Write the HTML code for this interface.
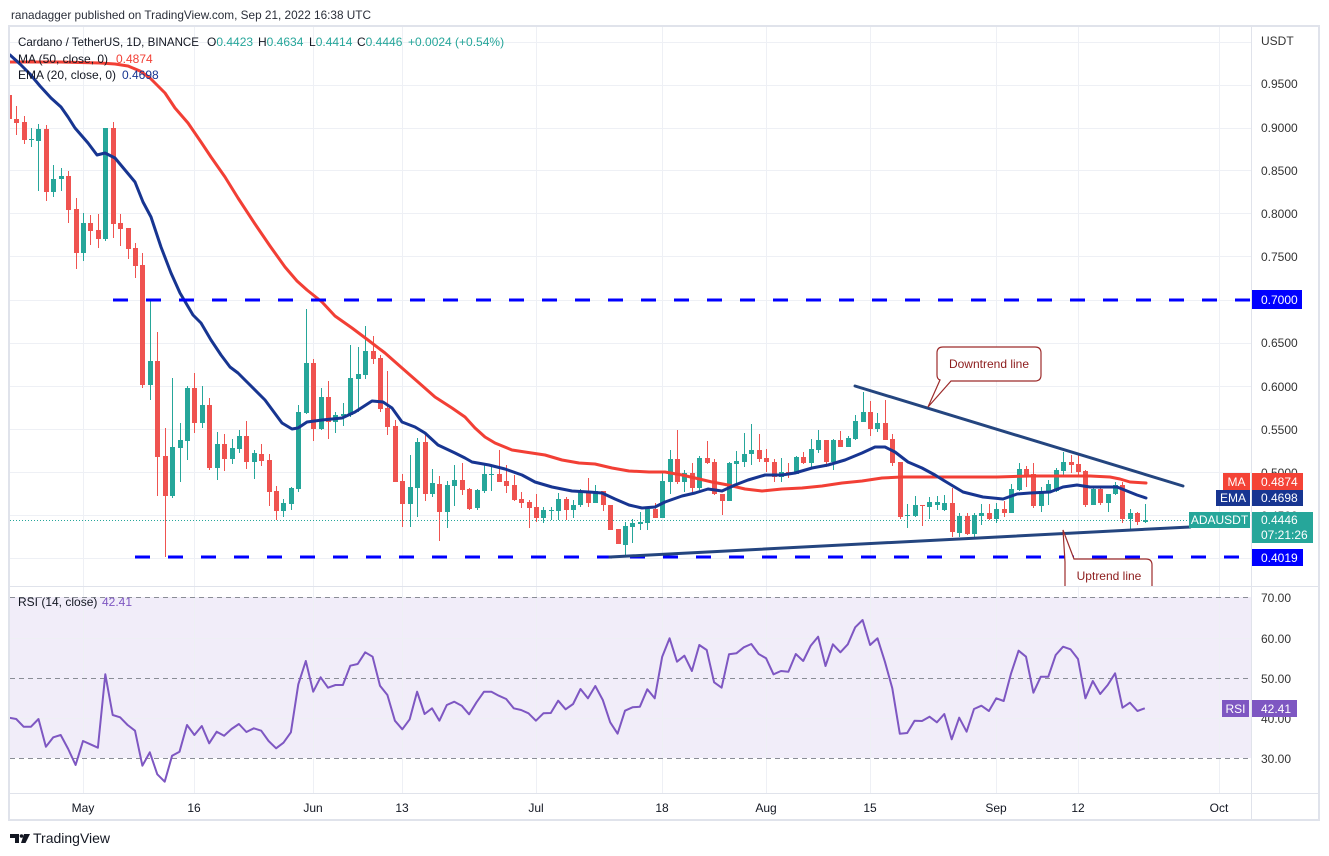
<!DOCTYPE html>
<html><head><meta charset="utf-8"><style>
html,body{margin:0;padding:0;background:#fff;}
svg{display:block;}
text{font-family:"Liberation Sans",sans-serif;}
</style></head><body>
<svg width="1329" height="856" viewBox="0 0 1329 856" xmlns="http://www.w3.org/2000/svg">
<defs>
<clipPath id="cm"><rect x="10" y="27" width="1241" height="559"/></clipPath>
<clipPath id="cr"><rect x="10" y="587" width="1241" height="206"/></clipPath>
</defs>
<rect width="1329" height="856" fill="#fff"/>
<text x="11" y="19" font-size="12" fill="#2a2e39" textLength="360" lengthAdjust="spacingAndGlyphs">ranadagger published on TradingView.com, Sep 21, 2022 16:38 UTC</text>

<!-- RSI band -->
<rect x="10" y="597" width="1241" height="161" fill="#f1edf9"/>

<!-- grid -->
<g stroke="#eef0f5" stroke-width="1">
<path d="M10 42.5H1251M10 85.5H1251M10 128.5H1251M10 170.5H1251M10 213.5H1251M10 256.5H1251M10 300.5H1251M10 343.5H1251M10 386.5H1251M10 429.5H1251M10 472.5H1251M10 515.5H1251M10 558.5H1251"/>
<path d="M10 638.5H1251M10 718.5H1251"/>
<path d="M83.5 27V793M194.5 27V793M313.5 27V793M402.5 27V793M536.5 27V793M662.5 27V793M766.5 27V793M870.5 27V793M996.5 27V793M1078.5 27V793M1219.5 27V793"/>
</g>

<!-- RSI dashed levels -->
<g stroke="#8a8d96" stroke-width="1" stroke-dasharray="5 4">
<path d="M10 597.5H1251M10 678.5H1251M10 758.5H1251"/>
</g>

<!-- main pane -->
<g clip-path="url(#cm)">
<!-- price line -->
<path d="M10 520.5H1189" stroke="#26a69a" stroke-width="1" stroke-dasharray="1 2"/>
<!-- candles green -->
<path stroke="#26a69a" stroke-width="1" fill="none" d="M31.5 128V147M38.5 124V191M53.5 165V197M61.5 168V191M83.5 213V261M105.5 128V241M150.5 299V400M172.5 378V498M180.5 423V482M187.5 386V460M202.5 386V428M217.5 432V480M232.5 439V464M239.5 430V453M254.5 450V479M283.5 499V517M291.5 487V510M298.5 405V492M306.5 309V414M321.5 388V430M335.5 412V433M343.5 403V426M350.5 345V417M358.5 347V412M365.5 326V379M410.5 455V527M417.5 438V517M432.5 469V497M447.5 481V528M454.5 465V506M477.5 489V510M484.5 465V493M491.5 465V491M543.5 507V523M551.5 507V520M558.5 493V520M573.5 500V518M580.5 489V507M595.5 485V503M625.5 522V556M632.5 519V543M640.5 512V530M647.5 507V530M662.5 473V518M670.5 450V494M684.5 470V492M699.5 456V490M729.5 462V501M736.5 451V483M744.5 433V467M751.5 424V465M781.5 458V482M796.5 456V474M811.5 439V467M818.5 430V453M833.5 439V470M848.5 436V447M855.5 415V440M863.5 392V422M877.5 413V432M907.5 504V528M915.5 496V517M929.5 497V519M937.5 496V510M944.5 495V511M959.5 513V537M974.5 513V537M981.5 504V525M996.5 503V523M1011.5 484V513M1019.5 463V491M1041.5 487V512M1048.5 480V505M1056.5 468V492M1063.5 452V477M1093.5 487V505M1108.5 494V512M1115.5 482V495M1130.5 509V529M1145.5 504V523"/>
<path fill="#26a69a" d="M29 139h5v1h-5zM36 129h5v12h-5zM51 179h5v13h-5zM59 176h5v3h-5zM81 223h5v30h-5zM103 128h5v111h-5zM148 361h5v24h-5zM170 447h5v49h-5zM178 440h5v8h-5zM185 388h5v53h-5zM200 405h5v18h-5zM215 444h5v24h-5zM230 448h5v11h-5zM237 436h5v13h-5zM252 453h5v9h-5zM281 503h5v8h-5zM289 488h5v16h-5zM296 412h5v77h-5zM304 363h5v50h-5zM319 397h5v32h-5zM333 415h5v7h-5zM341 414h5v2h-5zM348 378h5v37h-5zM356 374h5v5h-5zM363 351h5v24h-5zM408 487h5v17h-5zM415 442h5v46h-5zM430 483h5v11h-5zM445 485h5v27h-5zM452 480h5v6h-5zM475 490h5v18h-5zM482 474h5v17h-5zM489 474h5v1h-5zM541 510h5v8h-5zM549 510h5v1h-5zM556 499h5v12h-5zM571 505h5v5h-5zM578 492h5v13h-5zM593 491h5v12h-5zM623 526h5v19h-5zM630 523h5v4h-5zM638 522h5v2h-5zM645 509h5v14h-5zM660 481h5v37h-5zM668 459h5v23h-5zM682 473h5v9h-5zM697 458h5v30h-5zM727 463h5v38h-5zM734 461h5v3h-5zM742 454h5v8h-5zM749 450h5v4h-5zM779 472h5v5h-5zM794 457h5v17h-5zM809 449h5v14h-5zM816 440h5v10h-5zM831 440h5v22h-5zM846 438h5v9h-5zM853 421h5v18h-5zM861 412h5v10h-5zM875 423h5v6h-5zM905 515h5v1h-5zM913 505h5v11h-5zM927 502h5v5h-5zM935 502h5v3h-5zM942 503h5v7h-5zM957 516h5v17h-5zM972 515h5v19h-5zM979 513h5v3h-5zM994 509h5v10h-5zM1009 489h5v24h-5zM1017 469h5v21h-5zM1039 491h5v15h-5zM1046 484h5v7h-5zM1054 470h5v21h-5zM1061 462h5v9h-5zM1091 489h5v16h-5zM1106 494h5v9h-5zM1113 485h5v9h-5zM1128 513h5v6h-5zM1143 520h5v2h-5z"/>
<!-- candles red -->
<path stroke="#ef5350" stroke-width="1" fill="none" d="M9.5 93V119M16.5 106V135M24.5 116V144M46.5 125V201M68.5 171V223M76.5 198V269M90.5 215V245M98.5 214V248M113.5 122V238M120.5 214V246M128.5 228V259M135.5 243V278M142.5 253V388M157.5 332V496M165.5 428V557M194.5 373V433M209.5 398V470M224.5 434V471M246.5 421V469M261.5 444V466M269.5 454V506M276.5 486V520M313.5 359V441M328.5 381V439M373.5 336V364M380.5 355V412M387.5 371V435M395.5 420V482M402.5 474V527M425.5 432V501M439.5 476V541M462.5 463V495M469.5 488V510M499.5 450V482M506.5 465V493M514.5 475V501M521.5 492V508M529.5 500V528M536.5 494V522M566.5 497V520M588.5 478V507M603.5 491V511M610.5 505V530M618.5 529V544M655.5 503V518M677.5 430V484M692.5 463V492M707.5 441V464M714.5 459V495M722.5 494V515M759.5 434V462M766.5 449V472M774.5 459V482M788.5 463V478M803.5 452V464M826.5 440V467M840.5 431V447M870.5 401V436M885.5 400V440M892.5 434V466M900.5 462V519M922.5 505V526M952.5 488V537M967.5 513V535M989.5 504V520M1004.5 501V517M1026.5 466V487M1033.5 463V508M1071.5 455V473M1078.5 455V475M1085.5 470V507M1100.5 488V505M1122.5 482V523M1137.5 512V525"/>
<path fill="#ef5350" d="M7 95h5v24h-5zM14 119h5v4h-5zM22 122h5v18h-5zM44 129h5v63h-5zM66 176h5v34h-5zM74 209h5v44h-5zM88 223h5v8h-5zM96 230h5v9h-5zM111 128h5v96h-5zM118 223h5v6h-5zM126 228h5v21h-5zM133 248h5v18h-5zM140 265h5v120h-5zM155 361h5v96h-5zM163 456h5v40h-5zM192 388h5v35h-5zM207 405h5v63h-5zM222 444h5v15h-5zM244 436h5v26h-5zM259 454h5v7h-5zM267 460h5v32h-5zM274 491h5v20h-5zM311 363h5v66h-5zM326 397h5v25h-5zM371 351h5v8h-5zM378 358h5v51h-5zM385 408h5v19h-5zM393 426h5v56h-5zM400 481h5v23h-5zM423 442h5v52h-5zM437 484h5v28h-5zM460 480h5v10h-5zM467 489h5v20h-5zM497 474h5v8h-5zM504 481h5v5h-5zM512 485h5v15h-5zM519 499h5v4h-5zM527 502h5v6h-5zM534 507h5v11h-5zM564 499h5v11h-5zM586 492h5v11h-5zM601 491h5v14h-5zM608 505h5v25h-5zM616 529h5v15h-5zM653 509h5v9h-5zM675 459h5v23h-5zM690 473h5v15h-5zM705 458h5v5h-5zM712 462h5v32h-5zM720 494h5v7h-5zM757 450h5v9h-5zM764 458h5v4h-5zM772 462h5v15h-5zM786 472h5v2h-5zM801 457h5v6h-5zM824 440h5v22h-5zM838 440h5v7h-5zM868 412h5v17h-5zM883 423h5v17h-5zM890 439h5v24h-5zM898 462h5v55h-5zM920 505h5v1h-5zM950 503h5v29h-5zM965 516h5v18h-5zM987 513h5v6h-5zM1002 509h5v4h-5zM1024 469h5v6h-5zM1031 474h5v32h-5zM1069 462h5v3h-5zM1076 464h5v8h-5zM1083 471h5v34h-5zM1098 489h5v14h-5zM1120 485h5v34h-5zM1135 513h5v9h-5z"/>

<!-- MA 50 -->
<polyline fill="none" stroke="#f23f35" stroke-width="3" stroke-linejoin="round" stroke-linecap="round" points="10,62 60,62 100,63 115,64 128,66 140,71 150,78 158,86 165,93 175,108 188,123 201,142 211,157 225,177 238,198 255,224 270,246 285,267 297,281 307,290 322,302 335,316 352,328 368,340 385,353 402,368 418,382 435,397 452,408 465,417 475,428 485,437 495,443 512,450 525,452 545,455 562,460 579,463 595,464 612,468 629,471 649,472 665,472 682,475 695,478 712,482 728,485 745,489 762,491 782,489 802,488 822,486 842,483 862,481 882,478 902,477 935,477 963,477 997,477 1030,476 1063,476 1090,476 1110,477 1120,479 1130,482 1146,483"/>
<!-- EMA 20 -->
<polyline fill="none" stroke="#173591" stroke-width="3" stroke-linejoin="round" stroke-linecap="round" points="10,55 20,64 30,74 40,86 51,98 61,107 68,117 75,128 88,143 97,155 105,153 115,158 125,170 135,182 143,202 151,217 161,247 171,273 180,293 193,315 201,323 211,340 221,355 230,367 238,373 248,383 265,400 282,423 292,429 298,428 307,422 322,420 342,418 355,412 372,401 383,402 392,408 402,422 415,427 425,433 438,445 455,453 465,458 472,462 489,465 505,469 522,475 535,482 552,487 572,491 589,492 602,493 615,499 629,505 642,508 655,507 665,502 682,496 695,493 708,489 722,491 735,485 748,480 765,475 782,475 795,473 812,468 828,465 845,460 862,453 875,447 885,447 895,452 908,462 922,468 935,475 943,480 963,492 983,497 1003,499 1017,494 1030,493 1050,492 1063,487 1077,485 1090,487 1103,487 1117,487 1127,491 1137,495 1146,498"/>

<!-- horizontal dashed levels -->
<path d="M113 300H1251" stroke="#0000ff" stroke-width="3" stroke-dasharray="15 18"/>
<path d="M135 557H1251" stroke="#0000ff" stroke-width="3" stroke-dasharray="15 18"/>

<!-- trend lines -->
<path d="M855 386L1183 486" stroke="#24457f" stroke-width="3" stroke-linecap="round"/>
<path d="M610 557L1190 527" stroke="#24457f" stroke-width="3" stroke-linecap="round"/>

<!-- callouts -->
<path d="M943 347H1035Q1041 347 1041 353V375Q1041 381 1035 381H951L928 407L940 380Q937 379 937 375V353Q937 347 943 347Z" fill="#fff" stroke="#9c2b2b" stroke-width="1.2"/>
<text x="989" y="368" font-size="12" fill="#8d1c1c" text-anchor="middle">Downtrend line</text>
<path d="M1063 530L1074 559H1146Q1152 559 1152 565V600H1065V562Z" fill="#fff" stroke="#9c2b2b" stroke-width="1.2"/>
<text x="1109" y="580" font-size="12" fill="#8d1c1c" text-anchor="middle">Uptrend line</text>
</g>

<!-- RSI line -->
<g clip-path="url(#cr)">
<polyline fill="none" stroke="#7e57c2" stroke-width="2" stroke-linejoin="round" points="8.8,717.7 16.2,719 23.6,726.7 31,726.7 38.5,719 45.9,746.7 53.3,737.3 60.7,735 68.2,749 75.6,765 83,741 90.4,744.3 97.9,747.7 105.3,674.3 112.7,715 120.1,717.3 127.6,725 135,730.7 142.4,765.7 149.8,752.3 157.3,774.3 164.7,781.7 172.1,755.7 179.5,751.7 187,725 194.4,735 201.8,726 209.2,743.3 216.7,731.7 224.1,735.7 231.5,729 238.9,724 246.4,732 253.8,728.3 261.2,730.7 268.6,741 276.1,748.3 283.5,742.7 290.9,732.3 298.3,684.3 305.8,661 313.2,691.7 320.6,677.3 328,687.7 335.5,685 342.9,685 350.3,665.7 357.7,664 365.2,652.3 372.6,656.7 380,685.7 387.4,695 394.9,720.7 402.3,729.3 409.7,719.3 417.1,691.7 424.6,714 432,708.3 439.4,720.7 446.8,705 454.3,701.7 461.7,705.7 469.1,714.3 476.5,702.3 484,691.7 491.4,691.7 498.8,695.7 506.2,699 513.7,708.3 521.1,710 528.5,713.3 535.9,720.7 543.4,713.3 550.8,713 558.2,700.7 565.6,709.3 573.1,704 580.5,689 587.9,698.3 595.3,686 602.8,700 610.2,722.3 617.6,733.7 625,710.7 632.5,707.3 639.9,706.7 647.3,689.3 654.7,698.3 662.2,656.7 669.6,638.3 677,661.7 684.4,655.7 691.9,671 699.3,645 706.7,650 714.1,682.3 721.6,687.7 729,654.3 736.4,653.3 743.8,647.3 751.3,644 758.7,654 766.1,658.3 773.5,674.3 781,671 788.4,671.7 795.8,654 803.2,661 810.7,645.7 818.1,636.7 825.5,666 832.9,644.3 840.4,652.3 847.8,644.3 855.2,627.3 862.6,620 870.1,645 877.5,638.3 884.9,661.7 892.3,688.3 899.8,733.7 907.2,733 914.6,720.7 922,721 929.5,716.7 936.9,722.3 944.3,714 951.7,739.3 959.2,717.7 966.6,731.7 974,709 981.4,705.7 988.9,711 996.3,698.3 1003.7,701 1011.1,673.3 1018.6,650.7 1026,656.7 1033.4,692.7 1040.8,676.7 1048.3,676.7 1055.7,655 1063.1,646.7 1070.5,649.3 1078,659 1085.4,698.3 1092.8,681 1100.2,694 1107.7,685 1115.1,673.3 1122.5,707.7 1129.9,702.7 1137.4,711 1144.8,708.3"/>
</g>

<!-- legends -->
<text y="46" font-size="12" fill="#131722"><tspan x="18" textLength="181" lengthAdjust="spacingAndGlyphs">Cardano / TetherUS, 1D, BINANCE</tspan><tspan x="207">O</tspan><tspan fill="#26a69a">0.4423</tspan><tspan x="258">H</tspan><tspan fill="#26a69a">0.4634</tspan><tspan x="309">L</tspan><tspan fill="#26a69a">0.4414</tspan><tspan x="357">C</tspan><tspan fill="#26a69a">0.4446</tspan><tspan x="408" fill="#26a69a">+0.0024 (+0.54%)</tspan></text>
<text y="63" font-size="12" fill="#131722"><tspan x="18">MA (50, close, 0)</tspan><tspan x="116" fill="#f23f35">0.4874</tspan></text>
<text y="79" font-size="12" fill="#131722"><tspan x="18">EMA (20, close, 0)</tspan><tspan x="122" fill="#173591">0.4698</tspan></text>
<text y="606" font-size="12" fill="#131722"><tspan x="18">RSI (14, close)</tspan><tspan x="102" fill="#7e57c2">42.41</tspan></text>

<!-- frame & separators -->
<rect x="9" y="26" width="1310" height="794" fill="none" stroke="#e0e3eb" stroke-width="2"/>
<path d="M1251.5 27V820M10 586.5H1318M10 793.5H1318" stroke="#e0e3eb" stroke-width="1"/>

<!-- price axis -->
<g font-size="12" fill="#333">
<text x="1261" y="45">USDT</text>
<text x="1261" y="88">0.9500</text>
<text x="1261" y="132">0.9000</text>
<text x="1261" y="175">0.8500</text>
<text x="1261" y="218">0.8000</text>
<text x="1261" y="261">0.7500</text>
<text x="1261" y="347">0.6500</text>
<text x="1261" y="391">0.6000</text>
<text x="1261" y="434">0.5500</text>
<text x="1261" y="477">0.5000</text>
<text x="1261" y="520">0.4500</text>
<text x="1261" y="602">70.00</text>
<text x="1261" y="643">60.00</text>
<text x="1261" y="683">50.00</text>
<text x="1261" y="723">40.00</text>
<text x="1261" y="763">30.00</text>
</g>

<!-- axis boxes -->
<rect x="1252" y="290" width="50" height="19" fill="#0000ff"/>
<text x="1261" y="304" font-size="12" fill="#fff">0.7000</text>
<rect x="1252" y="549" width="51" height="17" fill="#0000ff"/>
<text x="1261" y="562" font-size="12" fill="#fff">0.4019</text>
<rect x="1223" y="473" width="27" height="17" fill="#f44336"/>
<text x="1236.5" y="486" font-size="12" fill="#fff" text-anchor="middle">MA</text>
<rect x="1252" y="473" width="51" height="17" fill="#f44336"/>
<text x="1261" y="486" font-size="12" fill="#fff">0.4874</text>
<rect x="1216" y="490" width="34" height="16" fill="#173591"/>
<text x="1233" y="502" font-size="12" fill="#fff" text-anchor="middle">EMA</text>
<rect x="1252" y="490" width="51" height="16" fill="#173591"/>
<text x="1261" y="502" font-size="12" fill="#fff">0.4698</text>
<rect x="1189" y="512" width="61" height="16" fill="#26a69a"/>
<text x="1219.5" y="524" font-size="12" fill="#fff" text-anchor="middle">ADAUSDT</text>
<rect x="1252" y="512" width="61" height="31" fill="#26a69a"/>
<text x="1261" y="524" font-size="12" fill="#fff">0.4446</text>
<text x="1261" y="539" font-size="12" fill="#fff">07:21:26</text>
<rect x="1222" y="700" width="27" height="17" fill="#7e57c2"/>
<text x="1235.5" y="713" font-size="12" fill="#fff" text-anchor="middle">RSI</text>
<rect x="1252" y="700" width="45" height="17" fill="#7e57c2"/>
<text x="1261" y="713" font-size="12" fill="#fff">42.41</text>

<!-- time axis -->
<g font-size="12" fill="#131722" text-anchor="middle">
<text x="83" y="812">May</text>
<text x="194" y="812">16</text>
<text x="313" y="812">Jun</text>
<text x="402" y="812">13</text>
<text x="536" y="812">Jul</text>
<text x="662" y="812">18</text>
<text x="766" y="812">Aug</text>
<text x="870" y="812">15</text>
<text x="996" y="812">Sep</text>
<text x="1078" y="812">12</text>
<text x="1219" y="812">Oct</text>
</g>

<!-- footer logo -->
<g fill="#131722">
<path d="M10 834H19V843H15V838H10Z"/>
<circle cx="21.5" cy="836" r="1.8"/>
<path d="M24 834H30L25.5 843H21Z"/>
</g>
<text x="33" y="843" font-size="14" fill="#131722">TradingView</text>
</svg>
</body></html>
